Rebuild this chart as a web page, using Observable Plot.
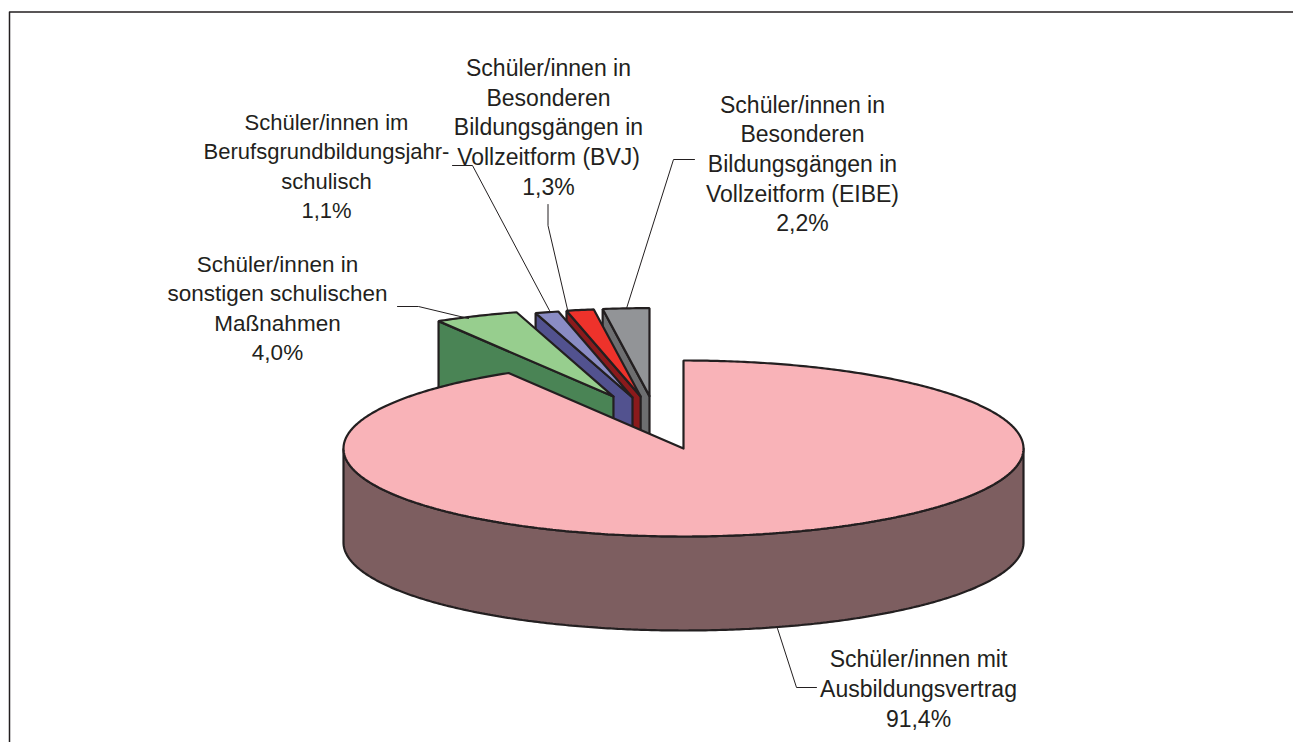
<!DOCTYPE html>
<html><head><meta charset="utf-8">
<script src="https://cdn.jsdelivr.net/npm/d3@7"></script>
<script src="https://cdn.jsdelivr.net/npm/@observablehq/plot@0.6"></script>
<style>html,body{margin:0;padding:0;background:#fff;overflow:hidden}svg{display:block}</style>
</head><body><div id="chart"></div>
<script>
// Data, clockwise from twelve o'clock
const categories = [
  "Schüler/innen mit\nAusbildungsvertrag",
  "Schüler/innen in\nsonstigen schulischen\nMaßnahmen",
  "Schüler/innen im\nBerufsgrundbildungsjahr-\nschulisch",
  "Schüler/innen in\nBesonderen\nBildungsgängen in\nVollzeitform (BVJ)",
  "Schüler/innen in\nBesonderen\nBildungsgängen in\nVollzeitform (EIBE)"
];
const shares = [91.4, 4.0, 1.1, 1.3, 2.2];
const topColors  = ["#f9b3b8", "#97ce8e", "#8a8cc4", "#ee322b", "#929497"];
const sideColors = ["#7d5e60", "#4a8455", "#52528f", "#8b1a1c", "#6d6e70"];

// Geometry of the pie, in the x and y scales' units (1 = one radius)
const W = 1293, H = 742;
const rangeX = [343, 1023], rangeY = [536, 360];  // radius -1..1 on each axis
const depth = 1.068;
const explodeX = [0, -0.206, -0.150, -0.126, -0.100];
const explodeY = [0, 0.590, 0.580, 0.590, 0.595];

const px = (x) => (x - 683) / 340;
const py = (y) => (448 - y) / 88;

const TAU = 2 * Math.PI;
let run = 0;
const slices = shares.map((s, i) => {
  const a0 = run / 100 * TAU, a1 = (run + s) / 100 * TAU;
  run += s;
  return {i, a0, a1, dx: explodeX[i], dy: explodeY[i]};
});
const arc = (s, from, to, drop = 0) => {
  const n = Math.max(2, Math.ceil(Math.abs(to - from) / 0.01));
  return d3.range(n + 1).map((k) => {
    const a = from + (to - from) * k / n;
    return [s.dx + Math.sin(a), s.dy + Math.cos(a) - drop];
  });
};
const wedgeTop = (s) => [[s.dx, s.dy], ...arc(s, s.a0, s.a1), [s.dx, s.dy]];
const radialFace = (s) => {
  const c = [s.dx + Math.sin(s.a0), s.dy + Math.cos(s.a0)];
  return [[s.dx, s.dy], c, [c[0], c[1] - depth], [s.dx, s.dy - depth], [s.dx, s.dy]];
};
const frontWall = (s) => {
  const a = Math.PI / 2, b = 3 * Math.PI / 2;
  return [...arc(s, a, b), ...arc(s, b, a, depth), [s.dx + 1, s.dy]];
};

// Painter's order: small exploded wedges back to front, then the big slice
const polys = [];
const add = (pts, fill, id) => pts.forEach(([x, y]) => polys.push({x, y, fill, id}));
let pid = 0;
[4, 3, 2, 1].forEach((i) => {
  const s = slices[i];
  add(radialFace(s), sideColors[i], pid++);
  add(wedgeTop(s), topColors[i], pid++);
});
add(frontWall(slices[0]), sideColors[0], pid++);
add(wedgeTop(slices[0]), topColors[0], pid++);

// Label blocks and leaders, same units
const fmt = (v) => v.toFixed(1).replace(".", ",") + "%";
const labelX = [918, 277, 326, 548, 802].map(px);
const labelY = [687, 306, 164, 125.5, 162].map(py);
const labelSize = [23, 22.5, 22, 23, 23];
const labels = categories.map((c, i) => ({text: c + "\n" + fmt(shares[i]), x: labelX[i], y: labelY[i], size: labelSize[i]}));
const leaderPaths = [
  [[777, 628], [796, 687], [816, 687]],
  [[397, 306], [418, 306], [468, 318]],
  [[452, 165], [472, 165], [549, 310]],
  [[547.5, 204], [547.5, 225], [567, 309]],
  [[694, 159], [673, 159], [626, 308]]
];
const leaders = leaderPaths.flatMap((p, id) => p.map(([x, y]) => ({x: px(x), y: py(y), id})));
const frame = [[1293, 11.5], [9, 11.5], [9, 742]].map(([x, y]) => ({x: px(x), y: py(y)}));

const chart = Plot.plot({
  width: W, height: H,
  margin: 0,
  x: {domain: [-1, 1], range: rangeX, axis: null},
  y: {domain: [-1, 1], range: rangeY, axis: null},
  marks: [
    Plot.line(frame, {x: "x", y: "y", stroke: "#231f20", strokeWidth: 1.5}),
    Plot.line(polys, {x: "x", y: "y", z: "id", fill: "fill", stroke: "#231f20", strokeWidth: 2.2, strokeLinejoin: "miter"}),
    Plot.line(leaders, {x: "x", y: "y", z: "id", stroke: "#231f20", strokeWidth: 1}),
    ...labels.map((d) => Plot.text([d], {x: "x", y: "y", text: "text", fontSize: d.size, lineHeight: 29.6 / d.size, fill: "#231f20", fontFamily: "Liberation Sans", textAnchor: "middle", lineAnchor: "middle"}))
  ]
});
document.getElementById("chart").append(chart);
</script></body></html>
